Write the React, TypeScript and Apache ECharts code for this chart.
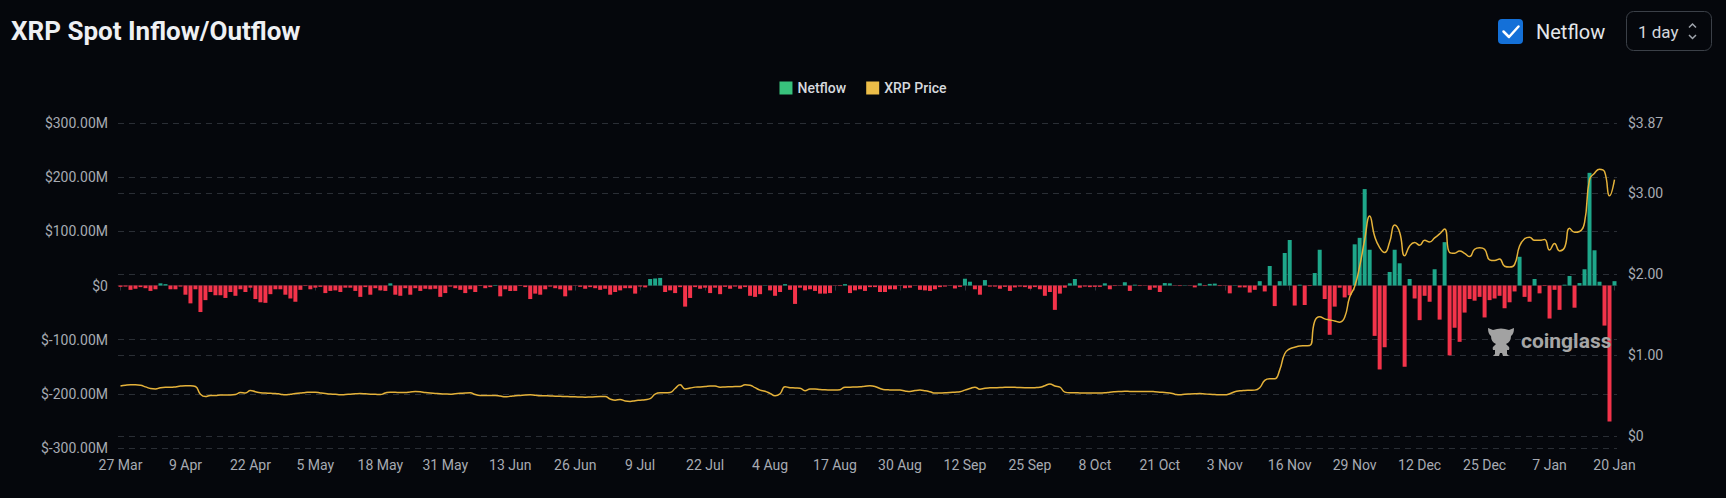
import React, { useEffect, useRef } from "react";
import * as echarts from "echarts";

// ---- data ----
const START_DATE = Date.UTC(2024, 2, 27);
const DAY_COUNT = 300;
const MONTHS = ["Jan", "Feb", "Mar", "Apr", "May", "Jun", "Jul", "Aug", "Sep", "Oct", "Nov", "Dec"];
const categories: string[] = [];
for (let i = 0; i < DAY_COUNT; i++) {
  const d = new Date(START_DATE + i * 86400000);
  categories.push(`${d.getUTCDate()} ${MONTHS[d.getUTCMonth()]}`);
}

// Netflow in $ millions
const netflow: number[] = [
  -2.5, -2, -8, -6, -3, -5, -10, -7, 4, 2.5,
  -7, -7, -2, -17, -33, -7, -49, -27, -12, -18,
  -18, -23, -12, -19, -7, -12, -4, -25, -31, -32,
  -16, -7, -7, -17, -24, -30, -8, -1, -7, -4,
  -2.5, -14, -10, -9, -12, -4, -4, -10, -21, -3,
  -17, -5, -9, -10, 4, -17, -19, -5, -17, -5,
  -10, -6, -7, -6, -21, -14, -2, -5, -8, -14,
  -7, -12, -1, -5, -3, 1, -20, -7, -10, -10,
  -1, -3, -25, -15, -17, -7, -2, -5, -7, -20,
  -9, -0.5, -2.5, -6, -3, -5, -8, -6, -17, -12,
  -9, -5, -5, -15, -2, -3.5, 12, 13, 14, -12,
  -9, -14, -3, -39, -23, -3, -6, -4, -14, -4,
  -16, -2.5, -6, -2, -6, -3, -19, -21, -16, 0.5,
  -9, -19, -12, 2.5, -8, -34, -4, -9, -7, -10,
  -15, -15, -14, -0.5, -1, 2.5, -14, -9, -7, -10,
  -3, -3, -12, -12, -7, -7, -0.5, -5, -4, -0.5,
  -8, -9, -10, -7, -3, -2, -0.5, -5.5, -2.5, 12.5,
  7, -7, -17, 10, -2, -2, -6, -2.5, -10, -3.5,
  -2, -3, -6, -3, -7, -19, -12, -45, -15, -4,
  4, 12, -4, -2, -3, -2.5, -2.5, 4, -7, -1,
  -0.5, 6, -10, 1.5, -1, -0.5, -8, -4, -12, 4.5,
  4, -0.5, -1, 0.5, -0.5, -3.5, 4, -1, 3, 3.5,
  -1, -0.5, -14.5, 0.5, -3.5, -3.5, -13, -8, 8, -11,
  36, -38, 8, 60, 84, -37, 1.5, -36, -1, 23,
  66, -25, -91, -39, -4, -22, -18, 76, 88, 178,
  66, -93, -155, -114, 25, 66, 41, -150, 12, -24,
  -64, -19, -30, 30, -63, 80, -129, -78, -104, -50,
  -25, -28, -21, -59, -27, -24, -19, -42, -31, -11,
  53, -21, -30, 12, -14.5, -1, -61, -8, -45, 1.5,
  17.5, -41, 4.5, 30, 208, 65, 7, -74, -251, 8,
];

// XRP price in $
const xrpPrice: number[] = [
  0.62, 0.63, 0.635, 0.635, 0.63, 0.61, 0.59, 0.585, 0.6, 0.605,
  0.605, 0.61, 0.62, 0.625, 0.625, 0.615, 0.52, 0.49, 0.505, 0.505,
  0.51, 0.51, 0.51, 0.515, 0.54, 0.535, 0.565, 0.55, 0.537, 0.535,
  0.53, 0.528, 0.52, 0.512, 0.52, 0.528, 0.533, 0.54, 0.545, 0.545,
  0.535, 0.527, 0.522, 0.518, 0.512, 0.515, 0.52, 0.525, 0.528, 0.525,
  0.52, 0.518, 0.516, 0.535, 0.545, 0.543, 0.541, 0.541, 0.548, 0.553,
  0.55, 0.54, 0.533, 0.529, 0.525, 0.522, 0.52, 0.525, 0.53, 0.535,
  0.537, 0.515, 0.505, 0.504, 0.504, 0.504, 0.497, 0.487, 0.493, 0.5,
  0.505, 0.51, 0.512, 0.507, 0.502, 0.5, 0.498, 0.495, 0.493, 0.491,
  0.489, 0.487, 0.485, 0.483, 0.485, 0.488, 0.49, 0.491, 0.46, 0.445,
  0.455, 0.435, 0.43, 0.44, 0.446, 0.452, 0.465, 0.52, 0.537, 0.537,
  0.54, 0.59, 0.635, 0.585, 0.595, 0.607, 0.61, 0.615, 0.622, 0.62,
  0.607, 0.61, 0.612, 0.614, 0.615, 0.635, 0.63, 0.6, 0.57, 0.557,
  0.53, 0.5, 0.525, 0.612, 0.6, 0.597, 0.594, 0.562, 0.583, 0.585,
  0.578, 0.574, 0.572, 0.57, 0.575, 0.607, 0.607, 0.609, 0.611, 0.618,
  0.623, 0.615, 0.59, 0.575, 0.573, 0.572, 0.57, 0.56, 0.553, 0.565,
  0.57, 0.563, 0.55, 0.533, 0.535, 0.537, 0.54, 0.545, 0.55, 0.57,
  0.59, 0.607, 0.582, 0.594, 0.598, 0.6, 0.602, 0.605, 0.607, 0.604,
  0.601, 0.599, 0.598, 0.6, 0.605, 0.625, 0.645, 0.62, 0.607, 0.545,
  0.537, 0.537, 0.536, 0.535, 0.534, 0.533, 0.535, 0.537, 0.545, 0.55,
  0.553, 0.555, 0.554, 0.553, 0.553, 0.553, 0.553, 0.55, 0.545, 0.54,
  0.535, 0.52, 0.512, 0.518, 0.522, 0.525, 0.527, 0.523, 0.518, 0.515,
  0.512, 0.512, 0.525, 0.55, 0.561, 0.566, 0.568, 0.57, 0.6, 0.69,
  0.71, 0.71, 0.82, 1.02, 1.08, 1.1, 1.115, 1.118, 1.12, 1.42,
  1.475, 1.45, 1.437, 1.425, 1.41, 1.47, 1.72, 1.85, 2.1, 2.43,
  2.72, 2.47, 2.33, 2.27, 2.4, 2.61, 2.52, 2.23, 2.35, 2.394,
  2.36, 2.42, 2.4, 2.45, 2.5, 2.56, 2.27, 2.26, 2.29, 2.26,
  2.22, 2.31, 2.33, 2.31, 2.18, 2.17, 2.19, 2.1, 2.09, 2.12,
  2.35, 2.44, 2.46, 2.42, 2.42, 2.43, 2.3, 2.38, 2.29, 2.33,
  2.57, 2.52, 2.53, 2.64, 3.17, 3.25, 3.3, 3.27, 2.97, 3.17,
];

const leftTicks = { min: -300, max: 300, interval: 100 };
const priceTickValues = [0, 1, 2, 3, 3.87];
const priceAxisRange = { min: -0.145, max: 3.87 };

const TITLE = "XRP Spot Inflow/Outflow";
const LEGEND_NAMES = ["Netflow", "XRP Price"];

const MASCOT_PATH =
  "M2,3 L7,5 Q15,2 23,5 L28,3 Q28,9 25,11 Q25,17 20,19 L22,21 Q24,22 23,25 L21,25 L21,29 L23,31 L17,31 L16,28 L14,28 L13,31 L7,31 L9,29 L9,25 L7,25 Q6,22 8,21 L10,19 Q5,17 5,11 Q2,9 2,3 Z";

let registered = false;

export default function App() {
  const ref = useRef<HTMLDivElement>(null);

  useEffect(() => {
    document.body.style.margin = "0";
    document.body.style.background = "#05070c";
    if (!registered) {
      echarts.graphic.registerShape("mascot", echarts.graphic.extendPath(MASCOT_PATH, {}) as any);
      registered = true;
    }
    const chart = echarts.init(ref.current!, undefined, { renderer: "svg" });
    const FONT = "Roboto, 'Noto Sans', sans-serif";
    const GREEN = "#1ea78a";
    const RED = "#f3334a";
    const gridColor = "#2a2e35";
    const labelColor = "#a7abb3";

    chart.setOption({
      animation: false,
      backgroundColor: "#05070c",
      textStyle: { fontFamily: FONT },
      legend: {
        data: LEGEND_NAMES,
        top: 76,
        left: "center",
        icon: "rect",
        itemWidth: 13,
        itemHeight: 13,
        itemGap: 20,
        textStyle: { color: "#d6d9de", fontSize: 14, fontWeight: 500, fontFamily: FONT },
      },
      grid: { left: 118, right: 109, top: 123, bottom: 50, containLabel: false },
      xAxis: [
        {
          type: "category",
          data: categories,
          boundaryGap: true,
          axisLine: { show: false, onZero: false },
          axisTick: { show: false },
          axisLabel: { interval: 12, color: labelColor, fontSize: 14, margin: 10, fontFamily: FONT },
          splitLine: { show: false },
        },
        {
          type: "category",
          data: categories,
          position: "bottom",
          boundaryGap: true,
          axisLine: { show: true, onZero: true, lineStyle: { color: "#1c1f25" } },
          axisTick: { show: true, interval: 12, alignWithLabel: true, length: 5, lineStyle: { color: "#30343c" } },
          axisLabel: { show: false },
          splitLine: { show: false },
        },
      ],
      yAxis: [
        {
          type: "value",
          min: leftTicks.min,
          max: leftTicks.max,
          interval: leftTicks.interval,
          axisLine: { show: false },
          axisTick: { show: false },
          axisLabel: {
            color: labelColor,
            fontSize: 14,
            margin: 10,
            fontFamily: FONT,
            formatter: (v: number) => (v === 0 ? "$0" : `$${v.toFixed(2)}M`),
          },
          splitLine: { show: true, lineStyle: { color: gridColor, type: [6, 5] } },
        },
        {
          type: "value",
          min: priceAxisRange.min,
          max: priceAxisRange.max,
          position: "right",
          axisLine: { show: false },
          axisTick: { show: false, customValues: priceTickValues },
          axisLabel: {
            color: labelColor,
            fontSize: 14,
            margin: 11,
            fontFamily: FONT,
            customValues: priceTickValues,
            formatter: (v: number) => (v === 0 ? "$0" : `$${v.toFixed(2)}`),
          },
          splitLine: { show: true, lineStyle: { color: gridColor, type: [6, 5] } },
        },
      ],
      series: [
        {
          name: "Netflow",
          type: "bar",
          xAxisIndex: 0,
          yAxisIndex: 0,
          barWidth: 4,
          itemStyle: { color: "#38c27c" },
          data: netflow.map((v) => ({ value: v, itemStyle: { color: v >= 0 ? GREEN : RED } })),
          z: 2,
        },
        {
          name: "XRP Price",
          type: "line",
          xAxisIndex: 0,
          yAxisIndex: 1,
          smooth: true,
          showSymbol: false,
          symbol: "none",
          itemStyle: { color: "#ecbd48" },
          lineStyle: { color: "#e5b23a", width: 1.5 },
          data: xrpPrice,
          z: 3,
        },
      ],
      graphic: [
        {
          type: "text",
          x: 11,
          y: 31,
          style: {
            text: TITLE,
            fill: "#eef0f3",
            font: `bold 26px ${FONT}`,
            textVerticalAlign: "middle",
          },
        },
        {
          type: "rect",
          shape: { x: 1498, y: 19, width: 25, height: 25, r: 4 },
          style: { fill: "#1470d8" },
        },
        {
          type: "polyline",
          shape: { points: [[1503.5, 31.5], [1509, 37], [1518.5, 26.5]] },
          style: { stroke: "#ffffff", lineWidth: 2.5, fill: "none", lineCap: "round", lineJoin: "round" },
        },
        {
          type: "text",
          x: 1536,
          y: 32,
          style: { text: "Netflow", fill: "#e4e6ea", font: `20px ${FONT}`, textVerticalAlign: "middle" },
        },
        {
          type: "rect",
          shape: { x: 1626.5, y: 11.5, width: 85, height: 39, r: 7 },
          style: { fill: "none", stroke: "#3b4048", lineWidth: 1 },
        },
        {
          type: "text",
          x: 1638,
          y: 31.5,
          style: { text: "1 day", fill: "#d4d7dc", font: `17px ${FONT}`, textVerticalAlign: "middle" },
        },
        {
          type: "polyline",
          shape: { points: [[1689, 27.5], [1692.5, 24], [1696, 27.5]] },
          style: { stroke: "#a0a5ad", lineWidth: 1.5, fill: "none" },
        },
        {
          type: "polyline",
          shape: { points: [[1689, 35], [1692.5, 38.5], [1696, 35]] },
          style: { stroke: "#a0a5ad", lineWidth: 1.5, fill: "none" },
        },
        {
          type: "mascot",
          x: 1486,
          y: 325,
          style: { fill: "#a2a2a2" },
          z: 10,
        },
        {
          type: "text",
          x: 1521,
          y: 341,
          z: 10,
          style: {
            text: "coinglass",
            fill: "#a6a6a6",
            font: `bold 21px ${FONT}`,
            textVerticalAlign: "middle",
          },
        },
      ],
    });

    return () => chart.dispose();
  }, []);

  return (
    <div
      ref={ref}
      style={{ position: "fixed", left: 0, top: 0, width: 1726, height: 498, background: "#05070c" }}
    />
  );
}
